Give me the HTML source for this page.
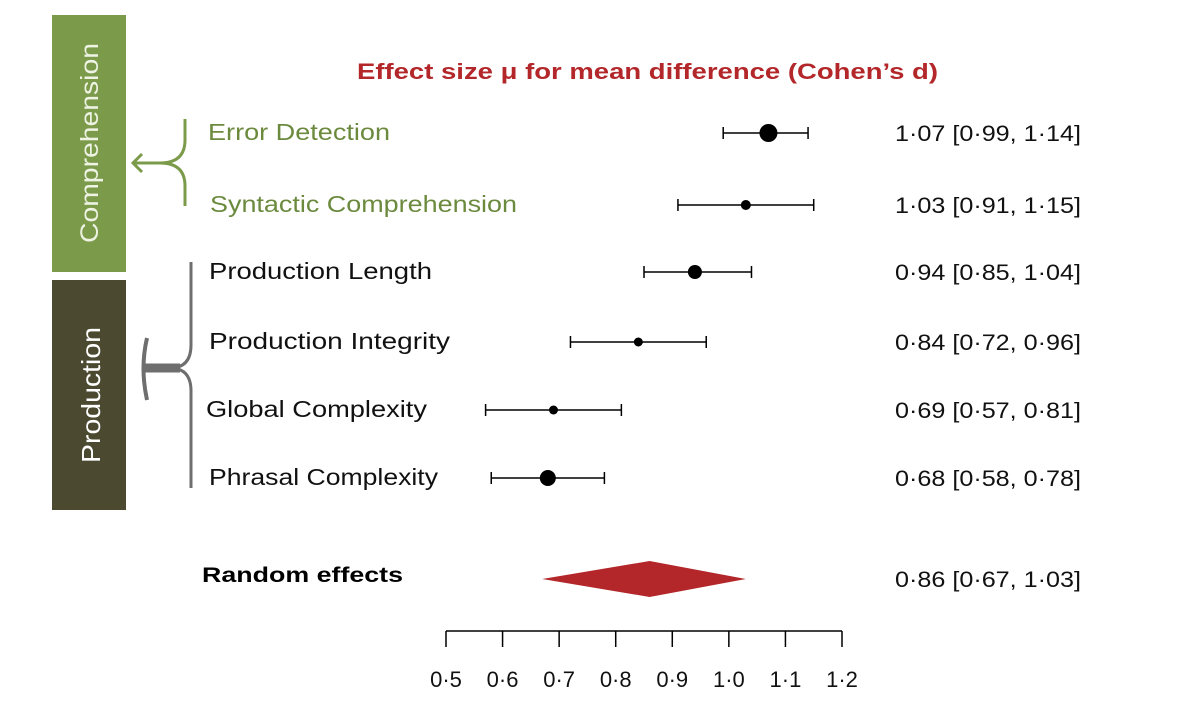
<!DOCTYPE html>
<html><head><meta charset="utf-8"><style>
body{margin:0;background:#fff;width:1200px;height:718px;overflow:hidden;font-family:"Liberation Sans",sans-serif}
</style></head><body>
<svg width="1200" height="718">
<rect x="52" y="15" width="74" height="257" fill="#7b9b4a"/>
<text transform="translate(98,143) rotate(-90)" text-anchor="middle" fill="#eef3e4" font-size="25" textLength="200" lengthAdjust="spacingAndGlyphs">Comprehension</text>
<rect x="52" y="280" width="74" height="230" fill="#4b4a30"/>
<text transform="translate(100,395) rotate(-90)" text-anchor="middle" fill="#fff" font-size="26" textLength="136" lengthAdjust="spacingAndGlyphs">Production</text>
<path d="M185,119 L185,140 Q185,163 160,163 Q185,163 185,186 L185,206 M160,163 L133,163 M142,154 L133,163 L142,172" stroke="#7b9b4a" stroke-width="3" fill="none"/>
<path d="M191,262 L191,345 Q191,368 170,368 Q191,368 191,391 L191,488" stroke="#6e6e6e" stroke-width="3" fill="none"/>
<path d="M145,368 L180,368" stroke="#6e6e6e" stroke-width="9" fill="none"/>
<path d="M147,338 Q140,368 147,400" stroke="#6e6e6e" stroke-width="4" fill="none"/>
<text x="357" y="79" fill="#b3272a" font-size="22" font-weight="bold" textLength="581" lengthAdjust="spacingAndGlyphs">Effect size μ for mean difference (Cohen’s d)</text>
<g id="rows"></g>
<text x="202" y="582" font-size="21" font-weight="bold" textLength="201" lengthAdjust="spacingAndGlyphs">Random effects</text>
<g id="axis"></g>
</svg>
<script>
const labels=["Error Detection","Syntactic Comprehension","Production Length","Production Integrity","Global Complexity","Phrasal Complexity"];
const est=[1.07,1.03,0.94,0.84,0.69,0.68];
const lo=[0.99,0.91,0.85,0.72,0.57,0.58];
const hi=[1.14,1.15,1.04,0.96,0.81,0.78];
const sizes=[9,5,7,4.5,4.5,8];
const rowY=[133,205,272,342,410,478];
const pooled=[0.86,0.67,1.03];
const ticks=[0.5,0.6,0.7,0.8,0.9,1.0,1.1,1.2];
const labelX=[208,210,209,209,206,209];
const labelW=[182,307,223,241,221,229];
const X=v=>446+(v-0.5)/0.7*396;
const NS="http://www.w3.org/2000/svg";
function mk(t,a,p){const e=document.createElementNS(NS,t);for(const k in a)e.setAttribute(k,a[k]);p.appendChild(e);return e;}
const fmt=v=>v.toFixed(2).replace('.','·');
const rows=document.getElementById('rows');
labels.forEach((l,i)=>{
 const y=rowY[i],green=i<2;
 const t=mk('text',{x:labelX[i],y:y+7,'font-size':23,fill:green?'#6b8a3e':'#111',textLength:labelW[i],lengthAdjust:'spacingAndGlyphs'},rows);t.textContent=l;
 
 
 const ln=mk('path',{d:`M${X(lo[i])},${y}H${X(hi[i])}M${X(lo[i])},${y-6}v12M${X(hi[i])},${y-6}v12`,stroke:'#000','stroke-width':1.5,fill:'none'},rows);
 
 
 const c=mk('circle',{cx:X(est[i]),cy:y,r:sizes[i],fill:'#000'},rows);
 
 
 const v=mk('text',{x:895,y:y+8,'font-size':22,fill:'#111',textLength:186,lengthAdjust:'spacingAndGlyphs'},rows);v.textContent=`${fmt(est[i])} [${fmt(lo[i])}, ${fmt(hi[i])}]`;
 
 
});
const d=mk('polygon',{points:`${X(pooled[1])},579 ${X(pooled[0])},561 ${X(pooled[2])},579 ${X(pooled[0])},597`,fill:'#b3272a'},rows);


const pv=mk('text',{x:895,y:587,'font-size':22,fill:'#111',textLength:186,lengthAdjust:'spacingAndGlyphs'},rows);pv.textContent=`${fmt(pooled[0])} [${fmt(pooled[1])}, ${fmt(pooled[2])}]`;


const ax=document.getElementById('axis');
const al=mk('line',{x1:X(ticks[0]),x2:X(ticks[ticks.length-1]),y1:631,y2:631,stroke:'#000','stroke-width':1.5},ax);


ticks.forEach(t=>{
 const tk=mk('line',{x1:X(t),x2:X(t),y1:631,y2:647,stroke:'#000','stroke-width':1.5},ax);
 
 
 const tl=mk('text',{x:X(t),y:687,'text-anchor':'middle','font-size':22,fill:'#111'},ax);tl.textContent=fmt(t).slice(0,3);
 
 
});
</script>
</body></html>
